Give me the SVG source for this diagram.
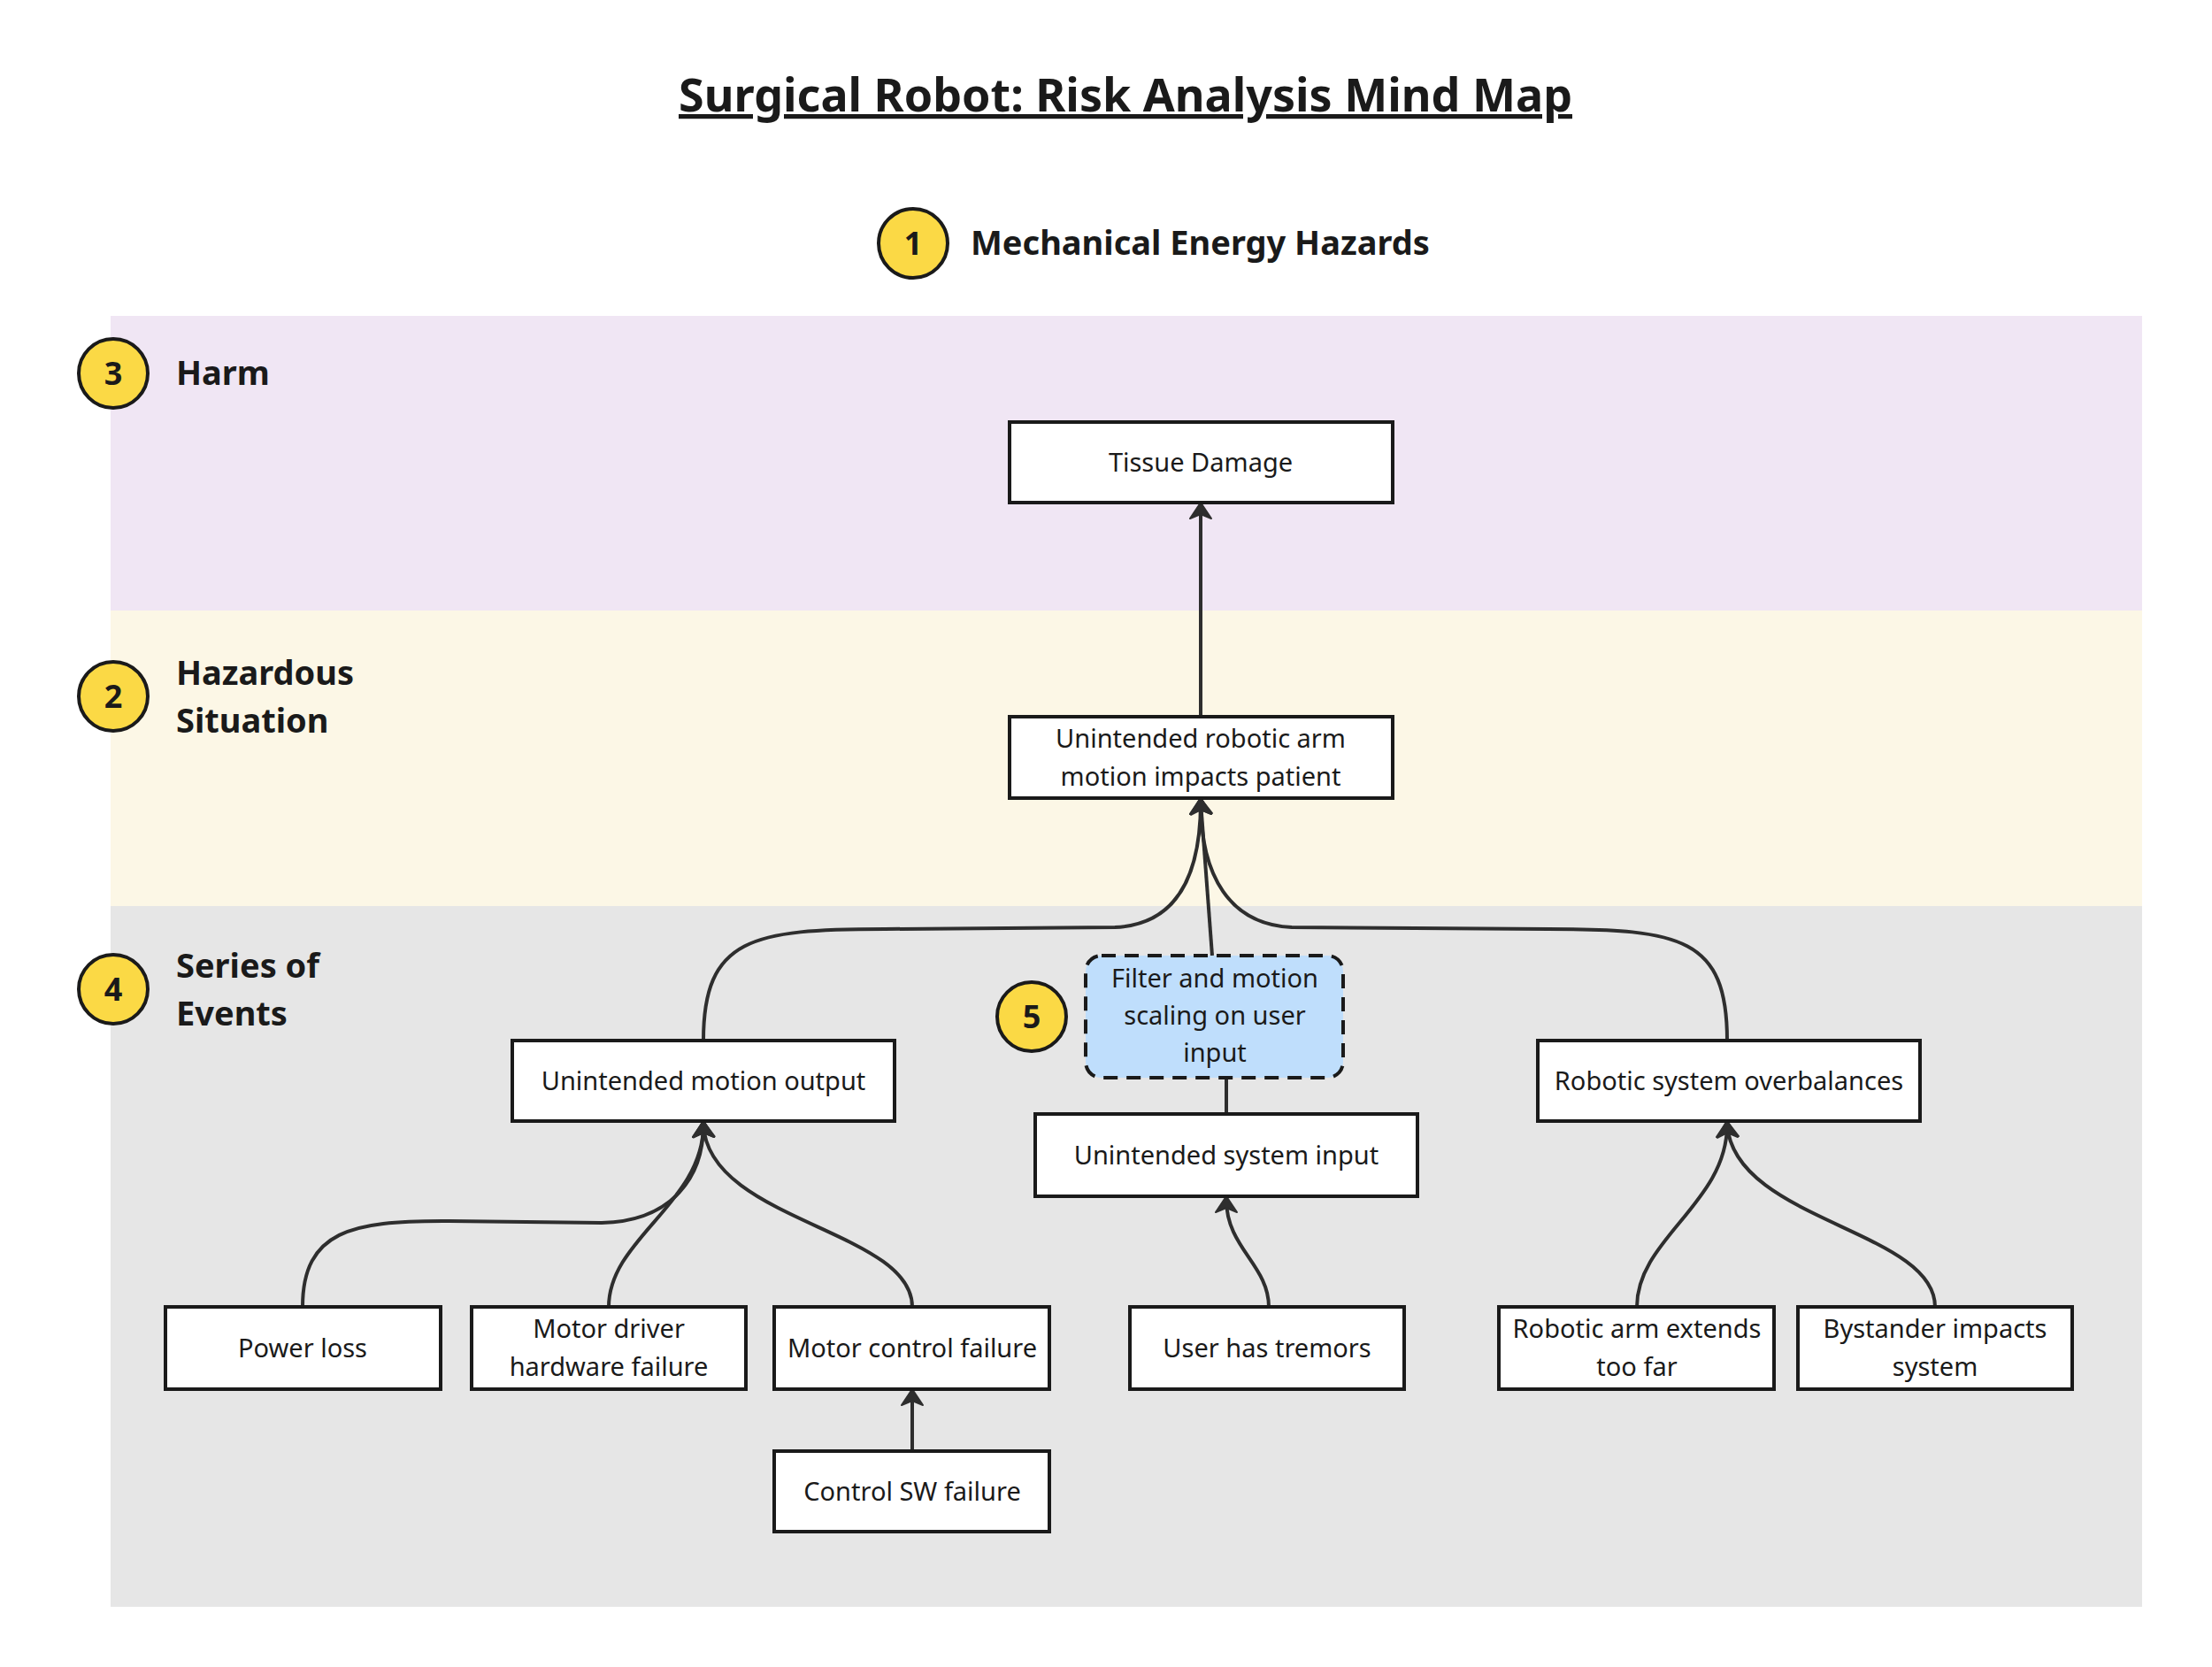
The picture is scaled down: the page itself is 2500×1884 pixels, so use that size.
<svg xmlns="http://www.w3.org/2000/svg" width="2500" height="1884" viewBox="0 0 2500 1884">
<style>
.t{font-family:"Noto Sans","Open Sans",sans-serif;fill:#1a1a1a}
.n{font-size:29px;text-anchor:middle}
.h{font-size:38px;font-weight:bold}
.box{fill:#fff;stroke:#1a1a1a;stroke-width:4}
.c{fill:none;stroke:#2e2e2e;stroke-width:4}
.badge{fill:#fbd945;stroke:#1a1a1a;stroke-width:4}
.bn{font-size:36px;font-weight:bold;text-anchor:middle}
</style>
<defs>
<marker id="ar" markerUnits="userSpaceOnUse" markerWidth="40" markerHeight="40" refX="20" refY="20" orient="auto">
<path d="M6 8 L24 20 L6 32 L11 20 Z" fill="#2e2e2e" stroke="#2e2e2e" stroke-width="2" stroke-linejoin="round"/>
</marker>
</defs>
<rect width="2500" height="1884" fill="#fff"/>
<rect x="125" y="357" width="2296" height="333" fill="#f0e6f4"/>
<rect x="125" y="690" width="2296" height="334" fill="#fcf7e6"/>
<rect x="125" y="1024" width="2296" height="792" fill="#e6e6e6"/>
<text class="t" x="1272" y="126" font-size="52" font-weight="bold" text-anchor="middle" text-decoration="underline">Surgical Robot: Risk Analysis Mind Map</text>
<g id="label1"><circle class="badge" cx="1032" cy="275" r="39"/><text class="t bn" x="1032" y="288">1</text><text class="t h" x="1097" y="288">Mechanical Energy Hazards</text></g>
<g id="label3"><circle class="badge" cx="128" cy="422" r="39"/><text class="t bn" x="128" y="435">3</text><text class="t h" x="199" y="435">Harm</text></g>
<g id="label2"><circle class="badge" cx="128" cy="787" r="39"/><text class="t bn" x="128" y="800">2</text><text class="t h" x="199" y="774">Hazardous</text><text class="t h" x="199" y="828">Situation</text></g>
<g id="label4"><circle class="badge" cx="128" cy="1118" r="39"/><text class="t bn" x="128" y="1131">4</text><text class="t h" x="199" y="1105">Series of</text><text class="t h" x="199" y="1159">Events</text></g>
<g id="connectors">
<path class="c" d="M1357 810 L1357 572" marker-end="url(#ar)"/>
<path class="c" d="M795 1176 C795 1060 850 1050 1000 1050 L1260 1048 C1330 1045 1357 990 1357 906" marker-end="url(#ar)"/>
<path class="c" d="M1952 1176 C1952 1060 1900 1050 1750 1050 L1460 1048 C1390 1045 1357 990 1357 906" marker-end="url(#ar)"/>
<path class="c" d="M1370 1080 L1357 906" marker-end="url(#ar)"/>
<path class="c" d="M1386 1218 L1386 1259"/>
<path class="c" d="M1434 1477 C1434 1430 1386 1410 1386 1356" marker-end="url(#ar)"/>
<path class="c" d="M342 1477 C342 1390 400 1380 500 1380 L680 1382 C760 1380 795 1330 795 1271" marker-end="url(#ar)"/>
<path class="c" d="M688 1477 C688 1400 795 1360 795 1271" marker-end="url(#ar)"/>
<path class="c" d="M1031 1477 C1031 1390 800 1380 795 1271" marker-end="url(#ar)"/>
<path class="c" d="M1031 1640 L1031 1574" marker-end="url(#ar)"/>
<path class="c" d="M1850 1477 C1850 1400 1952 1360 1952 1271" marker-end="url(#ar)"/>
<path class="c" d="M2187 1477 C2187 1390 1960 1380 1952 1271" marker-end="url(#ar)"/>
</g>
<g id="tissue"><rect class="box" x="1141" y="477" width="433" height="91"/><text class="t n" x="1357" y="533">Tissue Damage</text></g>
<g id="hazard"><rect class="box" x="1141" y="810" width="433" height="92"/><text class="t n" x="1357" y="845">Unintended robotic arm</text><text class="t n" x="1357" y="888">motion impacts patient</text></g>
<g id="motionout"><rect class="box" x="579" y="1176" width="432" height="91"/><text class="t n" x="795" y="1232">Unintended motion output</text></g>
<g id="filter"><rect x="1227" y="1080" width="291" height="138" rx="18" fill="#bfdefc" stroke="#1a1a1a" stroke-width="4" stroke-dasharray="16 10"/><text class="t n" x="1373" y="1116">Filter and motion</text><text class="t n" x="1373" y="1158">scaling on user</text><text class="t n" x="1373" y="1200">input</text></g>
<g id="label5"><circle class="badge" cx="1166" cy="1149" r="39"/><text class="t bn" x="1166" y="1162">5</text></g>
<g id="sysinput"><rect class="box" x="1170" y="1259" width="432" height="93"/><text class="t n" x="1386" y="1316">Unintended system input</text></g>
<g id="overbal"><rect class="box" x="1738" y="1176" width="432" height="91"/><text class="t n" x="1954" y="1232">Robotic system overbalances</text></g>
<g id="power"><rect class="box" x="187" y="1477" width="311" height="93"/><text class="t n" x="342" y="1534">Power loss</text></g>
<g id="driver"><rect class="box" x="533" y="1477" width="310" height="93"/><text class="t n" x="688" y="1512">Motor driver</text><text class="t n" x="688" y="1555">hardware failure</text></g>
<g id="motorctl"><rect class="box" x="875" y="1477" width="311" height="93"/><text class="t n" x="1031" y="1534">Motor control failure</text></g>
<g id="tremors"><rect class="box" x="1277" y="1477" width="310" height="93"/><text class="t n" x="1432" y="1534">User has tremors</text></g>
<g id="extends"><rect class="box" x="1694" y="1477" width="311" height="93"/><text class="t n" x="1850" y="1512">Robotic arm extends</text><text class="t n" x="1850" y="1555">too far</text></g>
<g id="bystander"><rect class="box" x="2032" y="1477" width="310" height="93"/><text class="t n" x="2187" y="1512">Bystander impacts</text><text class="t n" x="2187" y="1555">system</text></g>
<g id="sw"><rect class="box" x="875" y="1640" width="311" height="91"/><text class="t n" x="1031" y="1696">Control SW failure</text></g>
</svg>
